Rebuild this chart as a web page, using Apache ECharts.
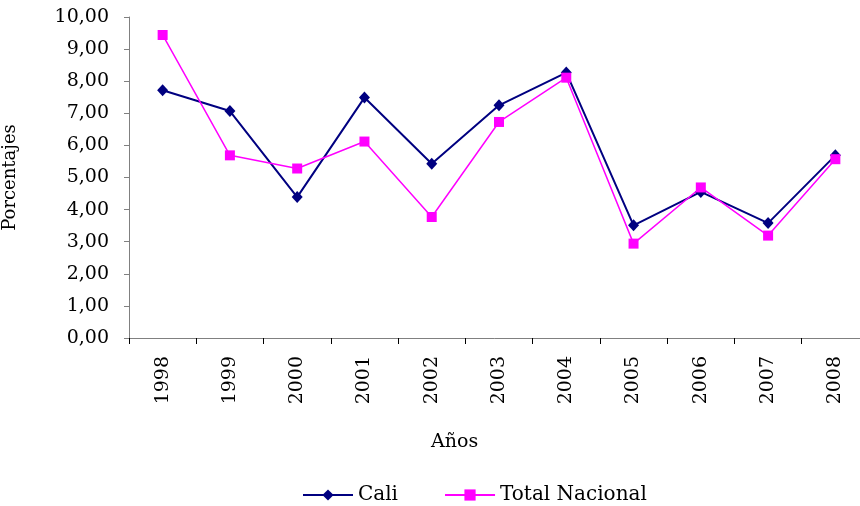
<!DOCTYPE html>
<html>
<head>
<meta charset="utf-8">
<script src="https://cdn.jsdelivr.net/npm/echarts@6/dist/echarts.min.js"></script>
<style>
  html, body { margin: 0; padding: 0; background: #fff; }
  #chart { width: 860px; height: 506px; }
</style>
</head>
<body>
<div id="chart"></div>
<script>
const years = ['1998', '1999', '2000', '2001', '2002', '2003', '2004', '2005', '2006', '2007', '2008']
const cali = [7.72, 7.07, 4.39, 7.49, 5.43, 7.25, 8.27, 3.51, 4.55, 3.58, 5.69]
const totalNacional = [9.44, 5.69, 5.28, 6.12, 3.77, 6.73, 8.11, 2.94, 4.69, 3.19, 5.57]

const font = 'DejaVu Serif'
const legendText = { fontFamily: font, fontSize: 20, color: '#000' }
const chart = echarts.init(document.getElementById('chart'))

chart.setOption({
  animation: false,
  grid: { left: 129, top: 17, right: -9, bottom: 168, outerBoundsMode: 'none', containLabel: false },
  textStyle: { fontFamily: font },
  graphic: [
    {
      type: 'text',
      left: 431,
      top: 433,
      style: { text: 'Años', font: '19px "DejaVu Serif"', fill: '#000' }
    }
  ],
  legend: {
    left: 302,
    top: 485,
    padding: 0,
    itemWidth: 50,
    itemHeight: 14,
    itemGap: 46,
    textStyle: legendText,
    data: [
      { name: 'Cali', textStyle: legendText },
      { name: 'Total Nacional', textStyle: legendText }
    ]
  },
  xAxis: {
    type: 'category',
    data: years,
    boundaryGap: true,
    axisLine: { lineStyle: { color: '#808080', width: 1 } },
    axisTick: { show: true, length: 6, lineStyle: { color: '#000' } },
    axisLabel: { rotate: 90, margin: 18, color: '#000', fontSize: 19, fontFamily: font },
    splitLine: { show: false }
  },
  yAxis: {
    type: 'value',
    min: 0,
    max: 10,
    interval: 1,
    name: 'Porcentajes',
    nameLocation: 'middle',
    nameGap: 110,
    nameTextStyle: { color: '#000', fontSize: 18, fontFamily: font },
    axisLine: { show: true, lineStyle: { color: '#808080', width: 1 } },
    axisTick: { show: true, length: 5, lineStyle: { color: '#808080' } },
    axisLabel: {
      margin: 20,
      color: '#000',
      fontSize: 19,
      fontFamily: font,
      formatter: v => v.toFixed(2).replace('.', ',')
    },
    splitLine: { show: false }
  },
  series: [
    {
      name: 'Cali',
      type: 'line',
      data: cali,
      symbol: 'diamond',
      symbolSize: [11, 12],
      itemStyle: { color: '#000080' },
      lineStyle: { color: '#000080', width: 2 }
    },
    {
      name: 'Total Nacional',
      type: 'line',
      data: totalNacional,
      symbol: 'rect',
      symbolSize: 10,
      itemStyle: { color: '#FF00FF' },
      lineStyle: { color: '#FF00FF', width: 1.5 }
    }
  ]
})
</script>
</body>
</html>
